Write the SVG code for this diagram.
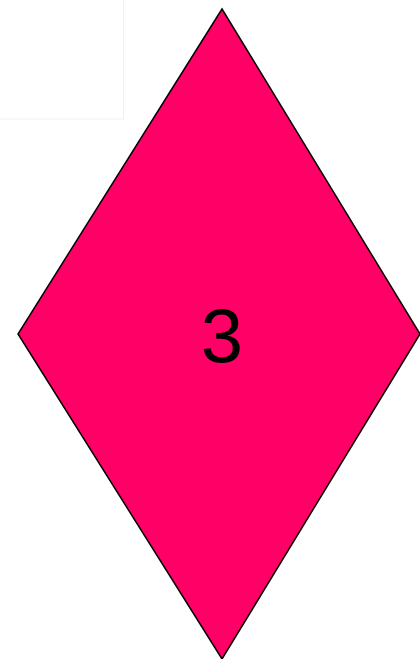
<svg xmlns="http://www.w3.org/2000/svg" width="420" height="659" viewBox="0 0 420 659">
<style>
.bg{fill:#ffffff;stroke:#f0f0f0;stroke-width:1}
.shape{fill:#ff0066;stroke:#000000;stroke-width:1.5}
.lbl{font-family:"Liberation Sans",Arial,sans-serif;font-size:76px;fill:#000000;text-anchor:middle}
</style>
<rect class="bg" x="-1" y="-1" width="124.5" height="120"/>
<g id="node3">
<polygon class="shape" points="222,9 420,334 222,659 18,334"/>
<text class="lbl" x="222" y="362">3</text>
</g>
</svg>
